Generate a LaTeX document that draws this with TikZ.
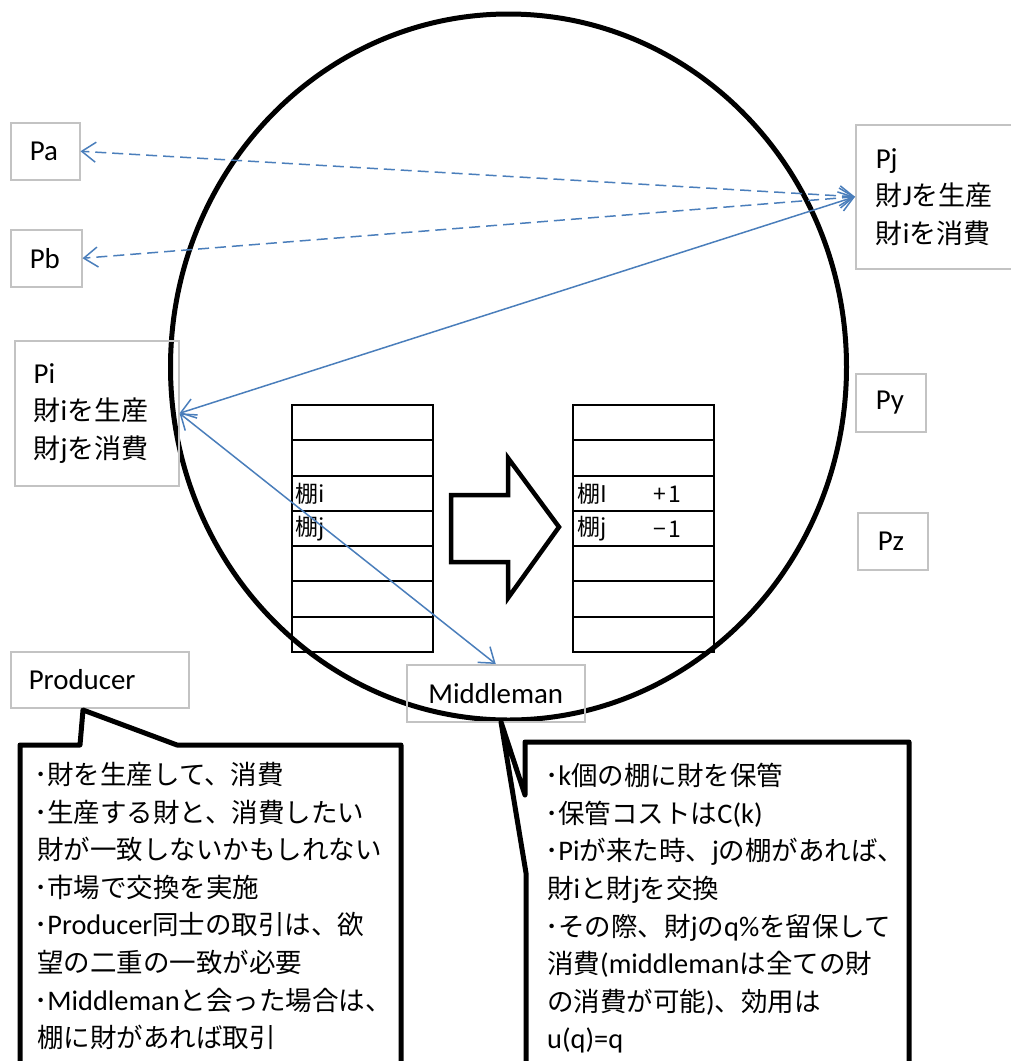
\documentclass[tikz,border=0pt]{standalone}
\usepackage{fontspec}
\setmainfont{Noto Sans CJK JP}
\newfontfamily\latfont[Scale=1.07]{Carlito}
\newcommand\lw[1]{{\latfont #1}}
\usetikzlibrary{arrows.meta}
\definecolor{arrowblue}{HTML}{4A7EBB}
\definecolor{boxgray}{HTML}{C3C3C3}
\tikzset{
  pbox/.style={draw=boxgray, line width=1.5pt, inner xsep=19pt, inner ysep=0pt,
    align=left, anchor=north west, font=\fontsize{27pt}{37.5pt}\selectfont},
  barb/.tip={Straight Barb[length=14pt,width=20pt,line width=1.5pt]},
  dasharr/.style={arrowblue, line width=1.5pt, dash pattern=on 11pt off 6pt, barb-barb},
  solarr/.style={arrowblue, line width=1.5pt, barb-barb},
  shelf/.style={line width=2pt},
  shelftxt/.style={inner sep=0pt, anchor=west, font=\fontsize{23pt}{26pt}\selectfont},
  callout/.style={line width=5pt, line join=round, fill=white},
  ctext/.style={inner sep=0pt, anchor=north west, align=left, font=\fontsize{26.5pt}{37.6pt}\selectfont}
}
\begin{document}
\begin{tikzpicture}[x=1pt,y=-1pt]
\useasboundingbox (0,0) rectangle (1011,1061);
\clip (0,0) rectangle (1011,1061);

% shelves
\foreach \x in {292,573} {
  \draw[shelf] (\x,405) rectangle (\x+141,652);
  \foreach \i in {1,...,6} \draw[shelf] (\x,405+\i*35.29) -- (\x+141,405+\i*35.29);
}
\node[shelftxt] (si) at (295,494) {棚i};
\node[shelftxt] (sj) at (295,529) {棚j};
\node[shelftxt] (sI2) at (577,494) {棚I};
\node[shelftxt] (sj2) at (577,529) {棚j};
\node[shelftxt, anchor=east] (plus) at (681,494) {+\hspace{2pt}1};
\node[shelftxt, anchor=east] (minus) at (681,529) {−\hspace{2pt}1};

% block arrow
\draw[line width=4.5pt, line join=miter] (451,495) -- (508,495) -- (508,458) -- (559,527)
  -- (508,598) -- (508,562) -- (451,562) -- cycle;

% market circle
\draw[line width=5pt] (508.5,367) ellipse [x radius=338pt, y radius=353pt];

% agents
\node[pbox, text width=31pt, minimum height=57pt] (Pa) at (10,122) {\lw{Pa}};
\node[pbox, text width=33pt, minimum height=57pt] (Pb) at (10,229) {\lw{Pb}};
\node[pbox, text width=126pt, minimum height=145pt] (Pi) at (14,340)
  {\lw{Pi}\\財\lw{i}を生産\\財\lw{j}を消費};
\node[pbox, inner xsep=20pt, text width=130pt, minimum height=144pt] (Pj) at (855,124)
  {\lw{Pj}\\財\lw{J}を生産\\財\lw{i}を消費};
\node[pbox, inner xsep=20pt, text width=30pt, minimum height=58pt] (Py) at (855,373) {\lw{Py}};
\node[pbox, inner xsep=20pt, text width=30pt, minimum height=57pt] (Pz) at (857,512) {\lw{Pz}};
\node[pbox, inner xsep=18pt, text width=142pt, minimum height=56pt] (Producer) at (10,651) {\lw{Producer}};
\node[pbox, align=center, inner xsep=19pt, text width=140pt, minimum height=57pt] (Middleman) at (406,664) {\lw{Middleman}};

% connectors
\draw[dasharr] (Pj.west) -- (Pa.east);
\draw[dasharr] (Pj.west) -- (Pb.east);
\draw[solarr] (Pj.west) -- (Pi.east);
\draw[solarr] (Pi.east) -- (Middleman.north);

% callouts
\draw[callout] (20,1075) -- (20,745) -- (80,745) -- (83,710) -- (177,745) -- (401,745) -- (401,1075);
\draw[callout] (526,1075) -- (526,873) -- (501,722) -- (525,795) -- (525,742) -- (909,742) -- (909,1075);

\node[ctext] (ptext) at (34,762) {･財を生産して、消費\\
･生産する財と、消費したい\\
\hspace*{3pt}財が一致しないかもしれない\\
･市場で交換を実施\\
･\lw{Producer}同士の取引は、欲\\
\hspace*{3pt}望の二重の一致が必要\\
･\lw{Middleman}と会った場合は、\\
\hspace*{3pt}棚に財があれば取引};

\node[ctext] (mtext) at (545,763) {･\lw{k}個の棚に財を保管\\
･保管コストは\lw{C(k)}\\
･\lw{Pi}が来た時、\lw{j}の棚があれば、\\
\hspace*{2pt}財\lw{i}と財\lw{j}を交換\\
･その際、財\lw{j}の\lw{q\%}を留保して\\
\hspace*{2pt}消費\lw{(middleman}は全ての財\\
\hspace*{2pt}の消費が可能\lw{)}、効用は\\
\hspace*{2pt}\lw{u(q)=q}};
\end{tikzpicture}
\end{document}
